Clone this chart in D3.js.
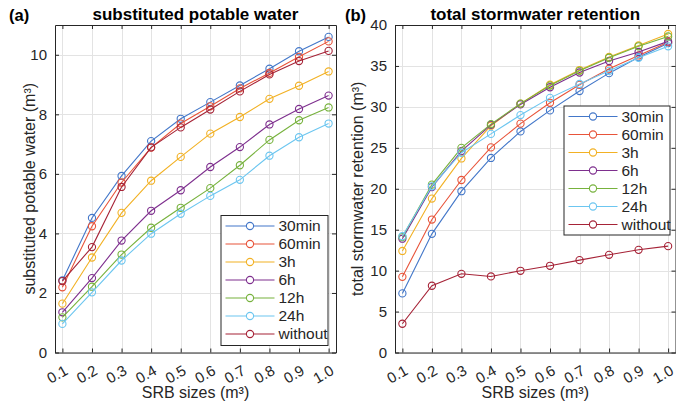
<!DOCTYPE html>
<html>
<head>
<meta charset="UTF-8">
<script src="https://d3js.org/d3.v7.min.js"></script>
<style>
  body { margin: 0; background: #fff; }
  text { font-family: "Liberation Sans", Arial, sans-serif; fill: #262626; }
  .grid line { stroke: #e3e3e3; stroke-width: 1; }
  .axis path, .axis line { stroke: #262626; }
  .axis text { font-size: 15px; }
</style>
</head>
<body>
<svg width="676" height="410"></svg>
<script>
// SRB sizes (m3)
var sizes = [0.1, 0.2, 0.3, 0.4, 0.5, 0.6, 0.7, 0.8, 0.9, 1.0];
var sizeLabels = ["0.1", "0.2", "0.3", "0.4", "0.5", "0.6", "0.7", "0.8", "0.9", "1.0"];
var seriesNames = ["30min", "60min", "3h", "6h", "12h", "24h", "without"];
var colors = ["#4377c9", "#e8543a", "#f2b124", "#7e2f8e", "#77b23d", "#6cc6f0", "#a62337"];

// (a) substituted potable water
var potable30min = [2.42, 4.52, 5.93, 7.10, 7.85, 8.41, 8.97, 9.53, 10.12, 10.60];
var potable60min = [2.19, 4.24, 5.71, 6.88, 7.69, 8.27, 8.87, 9.39, 9.93, 10.45];
var potable3h = [1.64, 3.19, 4.69, 5.77, 6.57, 7.35, 7.91, 8.52, 8.96, 9.44];
var potable6h = [1.35, 2.50, 3.76, 4.76, 5.45, 6.23, 6.90, 7.66, 8.18, 8.63];
var potable12h = [1.18, 2.21, 3.29, 4.19, 4.86, 5.52, 6.29, 7.14, 7.80, 8.23];
var potable24h = [0.96, 2.02, 3.09, 3.99, 4.66, 5.26, 5.80, 6.61, 7.23, 7.69];
var potableWithout = [2.40, 3.54, 5.56, 6.89, 7.56, 8.16, 8.77, 9.34, 9.79, 10.13];

// (b) total stormwater retention
var retention30min = [7.22, 14.49, 19.7, 23.76, 27.0, 29.57, 31.93, 34.12, 36.07, 37.78];
var retention60min = [9.24, 16.24, 21.07, 25.05, 27.95, 30.5, 32.7, 34.66, 36.28, 37.9];
var retention3h = [12.4, 18.8, 23.7, 27.7, 30.4, 32.7, 34.5, 36.1, 37.5, 38.9];
var retention6h = [13.9, 20.2, 24.6, 27.8, 30.3, 32.4, 34.2, 35.6, 36.7, 38.0];
var retention12h = [14.1, 20.5, 25.0, 27.9, 30.4, 32.6, 34.4, 36.0, 37.4, 38.6];
var retention24h = [14.2, 20.3, 24.4, 26.7, 29.0, 31.1, 32.8, 34.4, 36.0, 37.4];
var retentionWithout = [3.51, 8.15, 9.61, 9.29, 9.98, 10.59, 11.28, 11.93, 12.54, 12.99];

var svg = d3.select("svg");

function panel(opt) {
  var x = d3.scaleLinear().domain([0.075, 1.025]).range([opt.x0, opt.x1]);
  var y = d3.scaleLinear().domain(opt.yDomain).range([352.5, 25]);
  var g = svg.append("g");

  // grid
  var grid = g.append("g").attr("class", "grid");
  grid.selectAll(".gx").data(sizes).enter().append("line")
    .attr("x1", d => Math.round(x(d)) + 0.5).attr("x2", d => Math.round(x(d)) + 0.5)
    .attr("y1", y.range()[0]).attr("y2", y.range()[1]);
  grid.selectAll(".gy").data(opt.yTicks).enter().append("line")
    .attr("y1", d => Math.round(y(d)) + 0.5).attr("y2", d => Math.round(y(d)) + 0.5)
    .attr("x1", opt.x0).attr("x2", opt.x1);

  // axes (ticks inward on all four sides)
  var yb = y.range()[0], yt = y.range()[1];
  var ax = g.append("g").attr("class", "axis").attr("transform", "translate(0," + yb + ")")
    .call(d3.axisBottom(x).tickValues(sizes).tickFormat((d, i) => sizeLabels[i]).tickSizeInner(-4).tickSizeOuter(0).tickPadding(4));
  ax.selectAll("text")
    .attr("y", 0).attr("dy", 0)
    .attr("text-anchor", "end")
    .attr("transform", "translate(6,21) rotate(-30)");
  g.append("g").attr("class", "axis").attr("transform", "translate(0," + yt + ")")
    .call(d3.axisTop(x).tickValues(sizes).tickFormat("").tickSizeInner(-4).tickSizeOuter(0));
  g.append("g").attr("class", "axis").attr("transform", "translate(" + opt.x0 + ",0)")
    .call(d3.axisLeft(y).tickValues(opt.yTicks).tickSizeInner(-4).tickSizeOuter(0).tickPadding(8));
  g.append("g").attr("class", "axis").attr("transform", "translate(" + opt.x1 + ",0)")
    .call(d3.axisRight(y).tickValues(opt.yTicks).tickFormat("").tickSizeInner(-4).tickSizeOuter(0));

  // series
  var line = d3.line().x((d, i) => x(sizes[i])).y(d => y(d));
  opt.series.forEach(function (vals, k) {
    g.append("path").datum(vals).attr("d", line)
      .attr("fill", "none").attr("stroke", colors[k]).attr("stroke-width", 1.1);
    g.selectAll(null).data(vals).enter().append("circle")
      .attr("cx", (d, i) => x(sizes[i])).attr("cy", d => y(d)).attr("r", 3.6)
      .attr("fill", "none").attr("stroke", colors[k]).attr("stroke-width", 1.1);
  });

  // titles and labels
  var cx = (opt.x0 + opt.x1) / 2;
  g.append("text").attr("x", cx).attr("y", 20).attr("text-anchor", "middle")
    .style("font-size", "17px").style("font-weight", "bold").style("fill", "#000").text(opt.title);
  g.append("text").attr("x", opt.tagX).attr("y", 21)
    .style("font-size", "16.5px").style("font-weight", "bold").style("fill", "#000").text(opt.tag);
  g.append("text").attr("x", cx).attr("y", 398).attr("text-anchor", "middle")
    .style("font-size", "16px").text("SRB sizes (m³)");
  g.append("text").attr("transform", "translate(" + opt.yLabelX + "," + ((yb + yt) / 2) + ") rotate(-90)")
    .attr("text-anchor", "middle").style("font-size", "16px").text(opt.yLabel);

  // legend
  var L = opt.legend;
  var lg = g.append("g").attr("transform", "translate(" + L.x + "," + L.y + ")");
  lg.append("rect").attr("x", 0.5).attr("y", 0.5).attr("width", L.w).attr("height", L.h)
    .attr("fill", "#fff").attr("stroke", "#262626").attr("stroke-width", 1);
  seriesNames.forEach(function (name, k) {
    var ly = 11 + k * 18;
    lg.append("line").attr("x1", 5).attr("x2", 54).attr("y1", ly).attr("y2", ly)
      .attr("stroke", colors[k]).attr("stroke-width", 1.1);
    lg.append("circle").attr("cx", 29.5).attr("cy", ly).attr("r", 3.6)
      .attr("fill", "#fff").attr("stroke", colors[k]).attr("stroke-width", 1.1);
    lg.append("text").attr("x", 58).attr("y", ly + 5).style("font-size", "15.5px").text(name);
  });
}

panel({
  x0: 55, x1: 336, yDomain: [0, 11], yTicks: [0, 2, 4, 6, 8, 10],
  title: "substituted potable water", tag: "(a)", tagX: 9,
  yLabel: "substituted potable water (m³)", yLabelX: 35,
  series: [potable30min, potable60min, potable3h, potable6h, potable12h, potable24h, potableWithout],
  legend: { x: 220.5, y: 215, w: 107, h: 130 }
});

panel({
  x0: 395, x1: 675.5, yDomain: [0, 40], yTicks: [0, 5, 10, 15, 20, 25, 30, 35, 40],
  title: "total stormwater retention", tag: "(b)", tagX: 345,
  yLabel: "total stormwater retention (m³)", yLabelX: 363,
  series: [retention30min, retention60min, retention3h, retention6h, retention12h, retention24h, retentionWithout],
  legend: { x: 563.5, y: 105.5, w: 106, h: 129 }
});
</script>
</body>
</html>
